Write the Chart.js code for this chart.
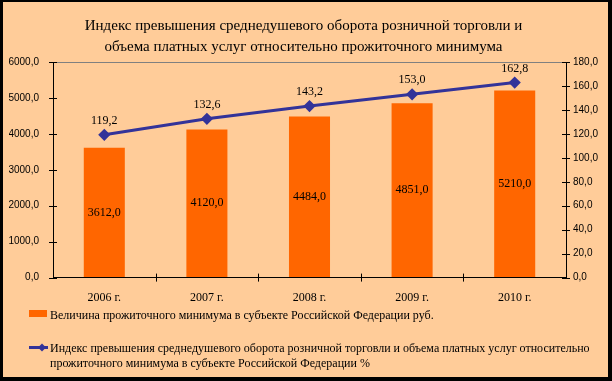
<!DOCTYPE html>
<html>
<head>
<meta charset="utf-8">
<script src="https://cdn.jsdelivr.net/npm/chart.js@4"></script>
<style>
  body { margin: 0; background: #fff; }
  #wrap {
    position: relative;
    width: 612px; height: 381px;
    box-sizing: border-box;
    border-style: solid; border-color: #000;
    border-width: 2px 4px 4px 3px;
    background: #FFCC99;
    font-family: "Liberation Serif", serif;
  }
  #chartBox { position: absolute; left: 0; top: 0; width: 605px; height: 375px; }
  .leg { position: absolute; font-size: 12px; color: #000; line-height: 15px; }
  .swatch { position: absolute; }
</style>
</head>
<body>
<div id="wrap">
  <div id="chartBox"><canvas id="myChart"></canvas></div>
  <div class="swatch" style="left:26px; top:308px; width:18px; height:7px; background:#FF6600;"></div>
  <div class="leg" style="left:47px; top:306px;">Величина прожиточного минимума в субъекте Российской Федерации руб.</div>
  <svg class="swatch" style="left:26px; top:341px;" width="19" height="9">
    <line x1="0" y1="4.5" x2="19" y2="4.5" stroke="#333399" stroke-width="3"/>
    <polygon points="13,0.5 17,4.5 13,8.5 9,4.5" fill="#333399"/>
  </svg>
  <div class="leg" style="left:47px; top:339px; width:550px;">Индекс превышения среднедушевого оборота розничной торговли и объема платных услуг относительно прожиточного минимума в субъекте Российской Федерации %</div>
</div>
<script>
// chart data
var years = ["2006 г.", "2007 г.", "2008 г.", "2009 г.", "2010 г."];
var minimumRub = [3612, 4120, 4484, 4851, 5210];
var indexPercent = [119.2, 132.6, 143.2, 153.0, 162.8];
var titleLines = [
  "Индекс превышения среднедушевого оборота розничной торговли и",
  "объема платных услуг относительно прожиточного минимума"
];

function fmt(v) {
  return Number(v).toFixed(1).replace('.', ',');
}

// value labels: middle of bars, above line points
var valueLabels = {
  id: 'valueLabels',
  afterDatasetsDraw: function (chart) {
    var ctx = chart.ctx;
    ctx.save();
    ctx.font = '12px "Liberation Serif", serif';
    ctx.fillStyle = '#000';
    ctx.textAlign = 'center';
    ctx.textBaseline = 'middle';
    chart.data.datasets.forEach(function (ds, i) {
      var meta = chart.getDatasetMeta(i);
      meta.data.forEach(function (el, j) {
        if (ds.type === 'bar') {
          ctx.fillText(fmt(ds.data[j]), el.x, (el.y + el.base) / 2);
        } else {
          ctx.fillText(fmt(ds.data[j]), el.x, el.y - 14);
        }
      });
    });
    ctx.restore();
  }
};

// small tick marks crossing the axes
var crossTicks = {
  id: 'crossTicks',
  afterDraw: function (chart) {
    var ctx = chart.ctx;
    var x = chart.scales.x, y = chart.scales.y, y1 = chart.scales.y1;
    ctx.save();
    ctx.strokeStyle = '#000';
    ctx.lineWidth = 1;
    ctx.beginPath();
    y.ticks.forEach(function (t) {
      var py = Math.round(y.getPixelForValue(t.value)) + 0.5;
      ctx.moveTo(x.left - 4, py); ctx.lineTo(x.left + 4, py);
    });
    y1.ticks.forEach(function (t) {
      var py = Math.round(y1.getPixelForValue(t.value)) + 0.5;
      ctx.moveTo(x.right - 4, py); ctx.lineTo(x.right + 4, py);
    });
    var n = years.length;
    for (var i = 1; i < n; i++) {
      var px = Math.round(x.left + i * (x.right - x.left) / n) + 0.5;
      ctx.moveTo(px, y.bottom - 4); ctx.lineTo(px, y.bottom + 4);
    }
    ctx.stroke();
    ctx.restore();
  }
};

document.addEventListener("DOMContentLoaded", function () {
  var ctx = document.getElementById("myChart").getContext("2d");

  var myChart = new Chart(ctx, {
    data: {
      labels: years,
      datasets: [{
        type: 'line',
        label: "Индекс",
        data: indexPercent,
        yAxisID: 'y1',
        borderColor: '#333399',
        backgroundColor: '#333399',
        borderWidth: 3,
        pointStyle: 'rectRot',
        pointRadius: 4,
        pointHoverRadius: 4,
        tension: 0,
        order: 0
      }, {
        type: 'bar',
        label: "Величина",
        data: minimumRub,
        yAxisID: 'y',
        backgroundColor: '#FF6600',
        barPercentage: 0.4,
        categoryPercentage: 1,
        order: 1
      }]
    },
    options: {
      responsive: true,
      maintainAspectRatio: false,
      animation: false,
      layout: { padding: { left: 6, right: 10, top: 0, bottom: 59 } },
      plugins: {
        legend: { display: false },
        tooltip: { enabled: false },
        title: {
          display: true,
          text: titleLines,
          color: '#000',
          font: { family: '"Liberation Serif", serif', size: 15, weight: 'normal', lineHeight: 1.4 },
          padding: { top: 14, bottom: 4 }
        }
      },
      scales: {
        x: {
          grid: { display: false, drawTicks: false },
          border: { color: '#000', width: 1 },
          ticks: { color: '#000', padding: 13, font: { family: '"Liberation Serif", serif', size: 12 } },
          afterFit: function (s) { s.paddingLeft = 0; s.paddingRight = 0; }
        },
        y: {
          position: 'left',
          min: 0, max: 6000,
          ticks: { stepSize: 1000, color: '#000', padding: 14, callback: fmt,
                   font: { family: '"Liberation Sans", sans-serif', size: 10 } },
          grid: {
            drawTicks: false,
            color: function (c) { return c.tick && c.tick.value === 6000 ? '#808080' : 'rgba(0,0,0,0)'; }
          },
          border: { color: '#000', width: 1 },
          afterFit: function (s) { s.width = 44; }
        },
        y1: {
          position: 'right',
          min: 0, max: 180,
          ticks: { stepSize: 20, color: '#000', padding: 7, callback: fmt,
                   font: { family: '"Liberation Sans", sans-serif', size: 10 } },
          grid: { display: false, drawTicks: false },
          border: { color: '#000', width: 1 },
          afterFit: function (s) { s.width = 32; }
        }
      }
    },
    plugins: [valueLabels, crossTicks]
  });
});
</script>
</body>
</html>
